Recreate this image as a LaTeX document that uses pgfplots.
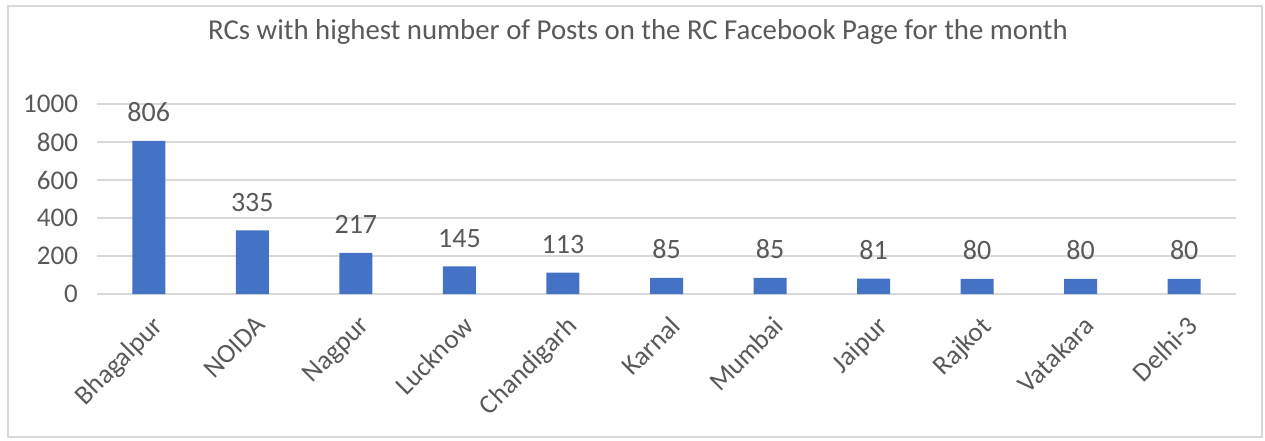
\documentclass[border=0pt]{standalone}
\usepackage{pgfplots}
\pgfplotsset{compat=1.18}
\usepackage{fontspec}
\setmainfont{Carlito}

\definecolor{barblue}{HTML}{4472C4}
\definecolor{txtgray}{HTML}{595959}
\definecolor{gridgray}{HTML}{D9D9D9}

\begin{document}
\begin{tikzpicture}[x=1pt,y=1pt]
    \begin{axis}[
        at={(0,0)}, anchor=south west,
        scale only axis,
        width=569.5pt, height=95pt,
        ybar, bar width=16.5pt,
        xmin=-0.5, xmax=10.5,
        ymin=0, ymax=1000,
        ytick={0,200,...,1000},
        xtick=data,
        xticklabels={Bhagalpur,NOIDA,Nagpur,Lucknow,Chandigarh,Karnal,Mumbai,Jaipur,Rajkot,Vatakara,Delhi-3},
        x tick label style={xshift=1pt, yshift=-10pt, rotate=45, anchor=north east, inner sep=0pt,
            font=\fontsize{13.5}{15}\selectfont},
        tick label style={txtgray},
        y tick label style={font=\fontsize{13.5}{15}\selectfont, xshift=-6pt},
        /pgf/number format/assume math mode=true,
        /pgf/number format/1000 sep={},
        ymajorgrids, grid style={gridgray, line width=0.8pt},
        axis line style={draw=none},
        major tick length=0pt,
        nodes near coords,
        every node near coord/.append style={txtgray, font=\fontsize{14}{16}\selectfont, yshift=6pt},
    ]
    \addplot[fill=barblue, draw=none] coordinates {
        (0,806) (1,335) (2,217) (3,145) (4,113) (5,85)
        (6,85) (7,81) (8,80) (9,80) (10,80)
    };
    \end{axis}
    % chart frame and title
    \draw[gridgray, line width=0.8pt] (-44.5,-71.5) rectangle (582.5,144);
    \node[txtgray, font=\fontsize{14.4}{16}\selectfont] at (270.5,131) {RCs with highest number of Posts on the RC Facebook Page for the month};
    \pgfresetboundingbox
    \path (-48.5,-73) rectangle (584,147);
\end{tikzpicture}
\end{document}
